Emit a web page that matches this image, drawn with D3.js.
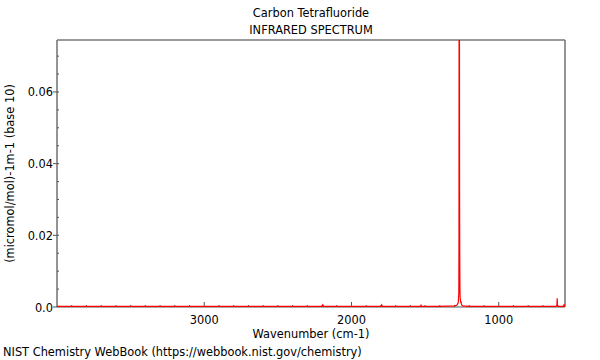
<!DOCTYPE html>
<html>
<head>
<meta charset="utf-8">
<script src="https://cdn.jsdelivr.net/npm/d3@7"></script>
<style>
  body { margin: 0; background: #fff; }
  text { font-family: "DejaVu Sans", sans-serif; fill: #000; }
</style>
</head>
<body>
<div id="viz-container"></div>
<script>
// spectrum
let wavenumbers = [4000, 3600, 3200, 2800, 2400, 2200, 2195, 2190, 1900, 1800, 1795, 1790, 1600, 1530, 1528, 1526, 1400, 1300,
                   1285, 1275, 1271, 1270, 1269, 1268, 1267, 1266, 1265, 1264, 1263, 1262, 1260, 1258, 1256, 1254, 1250, 1245,
                   1200, 1100, 1000, 800, 700, 640, 612, 605, 603, 601, 595, 580, 562, 558, 555, 552, 550];
let absorbance  = [0.0002, 0.0002, 0.0002, 0.0002, 0.0002, 0.0002, 0.0006, 0.0002, 0.0002, 0.0002, 0.0006, 0.0002, 0.0002, 0.0002, 0.0007, 0.0002, 0.0002, 0.0003,
                   0.0005, 0.0012, 0.004, 0.02, 0.11, 0.12, 0.09, 0.034, 0.016, 0.008, 0.004, 0.0025, 0.0018, 0.0012, 0.0016, 0.0009, 0.0005, 0.0003,
                   0.0002, 0.0002, 0.0002, 0.0002, 0.0002, 0.0002, 0.0002, 0.0004, 0.0024, 0.0004, 0.0002, 0.0002, 0.0002, 0.0005, 0.0003, 0.0006, 0.0006];

let xTicks = [3000, 2000, 1000];
let yTicks = [0.0, 0.02, 0.04, 0.06];
let yTickLabels = ["0.0", "0.02", "0.04", "0.06"];

let titleLines = ["Carbon Tetrafluoride", "INFRARED SPECTRUM"];
let xTitle = "Wavenumber (cm-1)";
let yTitle = "(micromol/mol)-1m-1 (base 10)";
let footer = "NIST Chemistry WebBook (https://webbook.nist.gov/chemistry)";

let W = 600, H = 360;
let pLeft = 57, pRight = 565, pTop = 40, pBottom = 307;
let fs = 11.4;

let viz = d3.select("#viz-container")
              .append("svg")
                .attr("width", W)
                .attr("height", H)
;

let x = d3.scaleLinear().domain([4000, 550]).range([pLeft, pRight]);
let y = d3.scaleLinear().domain([0, 0.0745]).range([pBottom, pTop]);

// frame
viz.append("line").attr("x1", pLeft).attr("x2", pRight).attr("y1", pTop).attr("y2", pTop)
   .attr("stroke", "#9a9a9a").attr("stroke-width", 2);
viz.append("line").attr("x1", pRight).attr("x2", pRight).attr("y1", pTop).attr("y2", pBottom)
   .attr("stroke", "#707070").attr("stroke-width", 1.5);
viz.append("line").attr("x1", pLeft).attr("x2", pLeft).attr("y1", pTop).attr("y2", pBottom)
   .attr("stroke", "#707070").attr("stroke-width", 1.5);
viz.append("line").attr("x1", pLeft).attr("x2", pRight).attr("y1", pBottom).attr("y2", pBottom)
   .attr("stroke", "#555").attr("stroke-width", 1);

// x axis ticks (inside)
let xMinor = d3.range(3900, 550, -100);
viz.selectAll(".xminor").data(xMinor).enter().append("line")
   .attr("x1", d => x(d)).attr("x2", d => x(d))
   .attr("y1", pBottom).attr("y2", d => xTicks.includes(d) ? pBottom - 5 : pBottom - 2)
   .attr("stroke", "#555").attr("stroke-width", 1);
viz.selectAll(".xlab").data(xTicks).enter().append("text")
   .attr("x", d => x(d)).attr("y", 324)
   .attr("text-anchor", "middle").attr("font-size", fs)
   .text(d => d);

// y axis ticks
let yMinor = d3.range(0.005, 0.0745, 0.005);
viz.selectAll(".yminor").data(yMinor).enter().append("line")
   .attr("x1", pLeft).attr("x2", pLeft + 2)
   .attr("y1", d => y(d)).attr("y2", d => y(d))
   .attr("stroke", "#555").attr("stroke-width", 1);
viz.selectAll(".ymajor").data(yTicks).enter().append("line")
   .attr("x1", pLeft - 4).attr("x2", pLeft)
   .attr("y1", d => y(d)).attr("y2", d => y(d))
   .attr("stroke", "#555").attr("stroke-width", 1);
viz.selectAll(".ylab").data(yTicks).enter().append("text")
   .attr("x", pLeft - 4).attr("y", d => y(d) + 4.5)
   .attr("text-anchor", "end").attr("font-size", fs)
   .text((d, i) => yTickLabels[i]);

// spectrum
viz.append("clipPath").attr("id", "clip")
   .append("rect").attr("x", pLeft).attr("y", pTop).attr("width", pRight - pLeft).attr("height", pBottom - pTop + 2);

let pts = wavenumbers.map((w, i) => [w, absorbance[i]]);
viz.append("path")
   .datum(pts)
   .attr("clip-path", "url(#clip)")
   .attr("fill", "none")
   .attr("stroke", "#ff0000")
   .attr("stroke-width", 1.2)
   .attr("d", d3.line().x(d => x(d[0])).y(d => y(d[1])));

// texts
viz.selectAll(".title").data(titleLines).enter().append("text")
   .attr("x", 311).attr("y", (d, i) => 17 + i * 17)
   .attr("text-anchor", "middle").attr("font-size", fs)
   .text(d => d);

viz.append("text").attr("x", 311).attr("y", 338)
   .attr("text-anchor", "middle").attr("font-size", fs).text(xTitle);

viz.append("text")
   .attr("transform", "translate(14," + ((pTop + pBottom) / 2) + ") rotate(-90)")
   .attr("text-anchor", "middle").attr("font-size", fs).text(yTitle);

viz.append("text").attr("x", 3).attr("y", 356)
   .attr("font-size", fs).text(footer);
</script>
</body>
</html>
